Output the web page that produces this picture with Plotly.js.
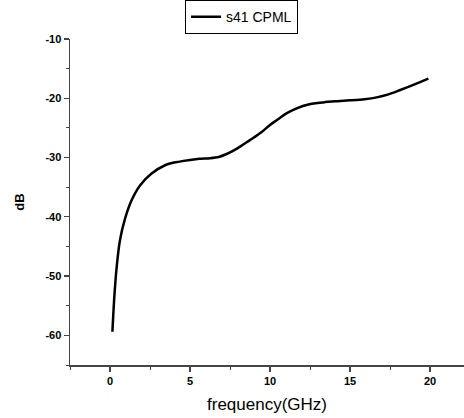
<!DOCTYPE html>
<html>
<head>
<meta charset="utf-8">
<script src="https://cdn.plot.ly/plotly-3.0.1.min.js"></script>
<style>html,body{margin:0;padding:0;background:#fff;}#chart{width:464px;height:418px;}</style>
</head>
<body>
<div id="chart"></div>
<script>
const seriesName = "s41 CPML";
const freqGHz = [0.15, 0.27, 0.42, 0.625, 0.94, 1.35, 1.875, 2.6, 3.44, 4.1, 4.65, 5.0, 5.6, 6.25, 6.8, 7.29, 7.8, 8.33, 8.9, 9.48, 10.0, 10.42, 11.0, 11.67, 12.4, 13.33, 14.2, 15.0, 15.9, 16.67, 17.4, 18.1, 19.0, 19.9];
const dB =      [-59.4, -53.5, -48.4, -43.9, -40.3, -37.2, -34.7, -32.7, -31.3, -30.8, -30.55, -30.4, -30.2, -30.1, -29.9, -29.4, -28.7, -27.8, -26.8, -25.7, -24.5, -23.7, -22.6, -21.7, -21.05, -20.7, -20.5, -20.35, -20.15, -19.85, -19.35, -18.65, -17.7, -16.7];
const xTicks = [0, 5, 10, 15, 20];
const yTicks = [-60, -50, -40, -30, -20, -10];

const axisColor = "#444";
const font = "Liberation Sans, Arial, sans-serif";
const trace = {
  x: freqGHz, y: dB, type: "scatter", mode: "lines", name: seriesName,
  line: {color: "#000", width: 2.5, shape: "spline", smoothing: 0.8}
};
const layout = {
  width: 464, height: 418,
  margin: {l: 70, r: 0, t: 39, b: 53},
  paper_bgcolor: "#fff", plot_bgcolor: "#fff",
  font: {family: font, color: "#000"},
  showlegend: true,
  legend: {
    x: 0.292, y: 1.119, xanchor: "left", yanchor: "top",
    bordercolor: "#000", borderwidth: 1, bgcolor: "#fff",
    font: {size: 14, family: font},
    tracegroupgap: 0, itemwidth: 30
  },
  xaxis: {
    range: [-2.5, 22.125], showgrid: false, zeroline: false,
    showline: true, linecolor: axisColor, linewidth: 1.5,
    tickmode: "array", tickvals: xTicks, ticktext: xTicks.map(String),
    ticks: "outside", ticklen: 5, tickwidth: 1.2, tickcolor: axisColor,
    tickfont: {size: 11, family: font, weight: "bold"},
    minor: {tickmode: "linear", tick0: -2.5, dtick: 5, ticks: "outside", ticklen: 3, tickwidth: 1, tickcolor: axisColor},
    title: {text: "frequency(GHz)", font: {size: 17, family: font}, standoff: 12}
  },
  yaxis: {
    range: [-65, -10], showgrid: false, zeroline: false,
    showline: true, linecolor: axisColor, linewidth: 1.5,
    tickmode: "array", tickvals: yTicks, ticktext: yTicks.map(String),
    ticks: "outside", ticklen: 5, tickwidth: 1.2, tickcolor: axisColor,
    tickfont: {size: 11, family: font, weight: "bold"},
    minor: {tickmode: "linear", tick0: -65, dtick: 10, ticks: "outside", ticklen: 3, tickwidth: 1, tickcolor: axisColor},
    title: {text: "dB", font: {size: 13, family: font, weight: "bold"}, standoff: 18}
  }
};
Plotly.newPlot("chart", [trace], layout, {displayModeBar: false, staticPlot: true});
</script>
</body>
</html>
